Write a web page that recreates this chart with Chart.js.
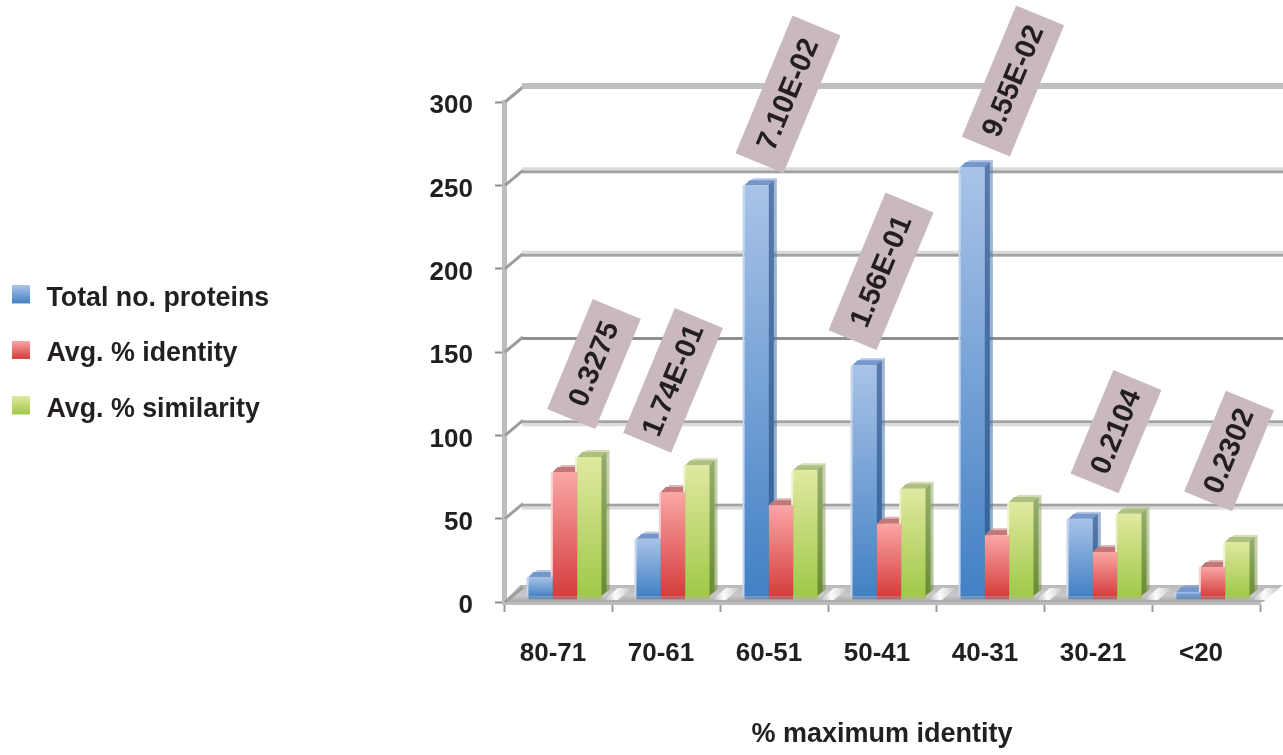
<!DOCTYPE html>
<html><head><meta charset="utf-8">
<style>html,body{margin:0;padding:0;background:#fff}canvas{display:block}</style>
<script src="https://cdn.jsdelivr.net/npm/chart.js@4"></script>
</head><body><canvas id="c" width="1283" height="755"></canvas>
<script>
const categories = ['80-71','70-61','60-51','50-41','40-31','30-21','<20'];
const totalProteins = [12,35,247,139,258,47,3];
const avgIdentity = [75,63,55,44,37,27,18];
const avgSimilarity = [84,79,76,65,57,50,33];
const pValues = ['0.3275','1.74E-01','7.10E-02','1.56E-01','9.55E-02','0.2104','0.2302'];
const calloutLengths = [119,135,149,149,142,112,109];
const calloutDx = [36,7,14,-1,23,18,23];
const calloutAbove = [93,85,91,94,86,82,91];

const FONT = '"Liberation Sans", Arial, sans-serif';
const INK = '#231f20';
const DEPTH_X = 9, DEPTH_Y = 7, SHIFT_X = 7, SHIFT_Y = -5;
const palette = [
  {top:'#a9c3e7',bot:'#4280c4',sideT:'#5779ab',sideB:'#2f6199',cap:'#7497cc',base:'#6f8fb8',halo:'#c5d6ee'},
  {top:'#fba6a6',bot:'#d43c3c',sideT:'#b06060',sideB:'#8f3535',cap:'#c27878',base:'#b8656c',halo:'#fbd0cf'},
  {top:'#e0e9a0',bot:'#a0c848',sideT:'#94ac6c',sideB:'#688b34',cap:'#aec280',base:'#a9bd75',halo:'#eef3cf'}
];
function frontFill(i){
  return ctx=>{
    const p = palette[i];
    if(ctx.type!=='data' || !ctx.parsed) return p.bot;
    const y = ctx.chart.scales.y;
    const g = ctx.chart.ctx.createLinearGradient(0,y.getPixelForValue(ctx.parsed.y),0,y.getPixelForValue(0));
    g.addColorStop(0,p.top); g.addColorStop(1,p.bot);
    return g;
  };
}
function swatch(i){
  const c = document.createElement('canvas'); c.width=21; c.height=26;
  const x = c.getContext('2d'), g = x.createLinearGradient(0,0,0,18);
  g.addColorStop(0,palette[i].top); g.addColorStop(1,palette[i].bot);
  x.fillStyle=g; x.fillRect(0,0,18,18);
  return c;
}
function poly(ctx,pts,fill){
  ctx.beginPath(); pts.forEach((p,i)=>i?ctx.lineTo(p[0],p[1]):ctx.moveTo(p[0],p[1])); ctx.closePath();
  ctx.fillStyle=fill; ctx.fill();
}
// back-wall line look per tick value: [light above, dark, light below]
const wallStyle = {250:[3,3,0],200:[3,3,0],150:[0,3,0],100:[0,3,3],50:[0,3,3]};
function drawScene(chart){
  const ctx = chart.ctx, x = chart.scales.x, y = chart.scales.y;
  const wx = 19, wy = 16, right = 1283;
  const y0 = y.getPixelForValue(0), L = x.left, R = x.right;
  const fg = ctx.createLinearGradient(0,y0-wy-1,0,y0);
  fg.addColorStop(0,'#b9b9b9'); fg.addColorStop(.6,'#c9c9c9'); fg.addColorStop(1,'#a8a8a8');
  poly(ctx,[[L,y0],[L+wy,y0-wy-1],[right,y0-wy-1],[R+3,y0]],fg);
  for(let i=1;i<=categories.length;i++){
    const t = x.getPixelForValue(i-1)+54;
    const sg = ctx.createLinearGradient(t-8,0,t+20,0);
    sg.addColorStop(0,'rgba(255,255,255,0)');
    sg.addColorStop(.42,'rgba(255,255,255,.95)');
    sg.addColorStop(1,'rgba(255,255,255,0)');
    poly(ctx,[[t-8,y0-2],[t+6,y0-2],[t+20,y0-14],[t+6,y0-14]],sg);
  }
  y.ticks.forEach(tk=>{
    const p = y.getPixelForValue(tk.value);
    ctx.strokeStyle='#9c9c9c'; ctx.lineWidth=3;
    ctx.beginPath(); ctx.moveTo(L+1,p); ctx.lineTo(L+wx,p-wy+1); ctx.stroke();
    if(tk.value===0) return;
    const X = L+wx-1, W = right-X, c = p-wy+1;
    if(tk.value===y.max){ ctx.fillStyle='#bfbfbf'; ctx.fillRect(X,c-4,W,6); return; }
    const [a,d,b] = wallStyle[tk.value];
    if(a){ctx.fillStyle='#dcdcdc'; ctx.fillRect(X,c-a,W,a);}
    ctx.fillStyle=a||b?'#a2a2a2':'#8f8f8f'; ctx.fillRect(X,c,W,d);
    if(b){ctx.fillStyle='#dcdcdc'; ctx.fillRect(X,c+d,W,b);}
  });
}
function drawBarSeries(chart,i){
  const ctx = chart.ctx, p = palette[i], meta = chart.getDatasetMeta(i);
  const prev = i>0 ? chart.getDatasetMeta(i-1) : null;
  ctx.save(); ctx.translate(SHIFT_X,SHIFT_Y);
  meta.data.forEach((el,k)=>{
    const x1 = el.x-el.width/2, x2 = el.x+el.width/2, top = el.y, base = el.base;
    const sg = ctx.createLinearGradient(0,top,0,base);
    sg.addColorStop(0,p.sideT); sg.addColorStop(1,p.sideB);
    ctx.globalAlpha=.55;
    poly(ctx,[[x2-1,top],[x2+DEPTH_X-1,top-DEPTH_Y],[x2+DEPTH_X-1,base-DEPTH_Y],[x2-1,base]],sg);
    poly(ctx,[[x1,top],[x1+DEPTH_X,top-DEPTH_Y],[x2+DEPTH_X-1,top-DEPTH_Y],[x2-1,top]],p.cap);
    ctx.globalAlpha=1;
    poly(ctx,[[x2-1,top],[x2+5,top-5],[x2+5,base-5],[x2-1,base]],sg);
    poly(ctx,[[x1,top],[x1+5,top-5],[x2+5,top-5],[x2-1,top]],p.cap);
    // lit left edge, only where the neighbour in front of it does not reach
    const edgeEnd = prev ? prev.data[k].y : base;
    if(edgeEnd>top){ ctx.fillStyle=p.halo; ctx.fillRect(x1-2,top,2,edgeEnd-top); }
  });
  meta.controller.draw();
  meta.data.forEach(el=>{
    ctx.fillStyle=p.base; ctx.fillRect(el.x-el.width/2,el.base,el.width,3);
  });
  ctx.restore();
}
function drawCallouts(chart){
  const ctx = chart.ctx, x = chart.scales.x;
  const metas = [0,1,2].map(i=>chart.getDatasetMeta(i));
  pValues.forEach((txt,i)=>{
    const topY = Math.min(...metas.map(m=>m.data[i].y))+SHIFT_Y;
    const cx = x.getPixelForValue(i)+calloutDx[i], cy = topY-calloutAbove[i];
    const w = calloutLengths[i], h = 52;
    ctx.save(); ctx.translate(cx,cy); ctx.rotate(-67.5*Math.PI/180);
    ctx.fillStyle='#c9b9bd'; ctx.fillRect(-w/2,-h/2,w,h);
    ctx.fillStyle=INK; ctx.font='bold 29px '+FONT; ctx.textAlign='center'; ctx.textBaseline='middle';
    ctx.fillText(txt,0,1);
    ctx.restore();
  });
}
const scene = {
  id:'scene',
  afterLayout(chart){
    const l = chart.legend;
    l.left = -16.7; l.right = 300; l.top = 256.3; l.bottom = 460;
  },
  beforeDatasetsDraw(chart){
    drawScene(chart);
    [0,1,2].forEach(i=>drawBarSeries(chart,i));
    drawCallouts(chart);
    return false;
  }
};
new Chart(document.getElementById('c'),{
  type:'bar',
  plugins:[scene],
  data:{labels:categories,datasets:[
    {label:'Total no. proteins',data:totalProteins,backgroundColor:frontFill(0),clip:false,pointStyle:swatch(0)},
    {label:'Avg. % identity',data:avgIdentity,backgroundColor:frontFill(1),clip:false,pointStyle:swatch(1)},
    {label:'Avg. % similarity',data:avgSimilarity,backgroundColor:frontFill(2),clip:false,pointStyle:swatch(2)}
  ]},
  options:{
    responsive:false,animation:false,
    layout:{padding:{top:102,right:23,left:0,bottom:0}},
    datasets:{bar:{categoryPercentage:.676,barPercentage:1,borderWidth:0}},
    plugins:{
      tooltip:{enabled:false},
      legend:{position:'chartArea',align:'start',
        labels:{usePointStyle:true,pointStyleWidth:21,padding:28.7,color:INK,font:{family:FONT,size:26.8,weight:'bold'},
          generateLabels(chart){return chart.data.datasets.map((d,i)=>({text:d.label,datasetIndex:i,pointStyle:d.pointStyle,fontColor:INK,hidden:false,lineWidth:0,strokeStyle:'rgba(0,0,0,0)',fillStyle:'rgba(0,0,0,0)'}));}
        }}
    },
    scales:{
      x:{
        afterFit(s){s.height=153;},
        grid:{display:true,drawOnChartArea:false,drawTicks:true,tickLength:10,tickWidth:2,tickColor:'#9a9a9a'},
        border:{display:true,color:'#bdbdbd',width:5},
        ticks:{color:INK,font:{family:FONT,size:26,weight:'bold'},padding:26,labelOffset:-5,maxRotation:0,autoSkip:false},
        title:{display:true,text:'% maximum identity',color:INK,font:{family:FONT,size:27,weight:'bold'},padding:{top:0,bottom:4}}
      },
      y:{
        min:0,max:300,
        afterFit(s){s.width=504;},
        grid:{display:true,drawOnChartArea:false,drawTicks:true,tickLength:9,tickWidth:2,tickColor:'#8c8c8c'},
        border:{display:true,color:'#bdbdbd',width:5},
        ticks:{stepSize:50,color:INK,font:{family:FONT,size:26,weight:'bold'},padding:22,labelOffset:4}
      }
    }
  }
});
</script></body></html>
